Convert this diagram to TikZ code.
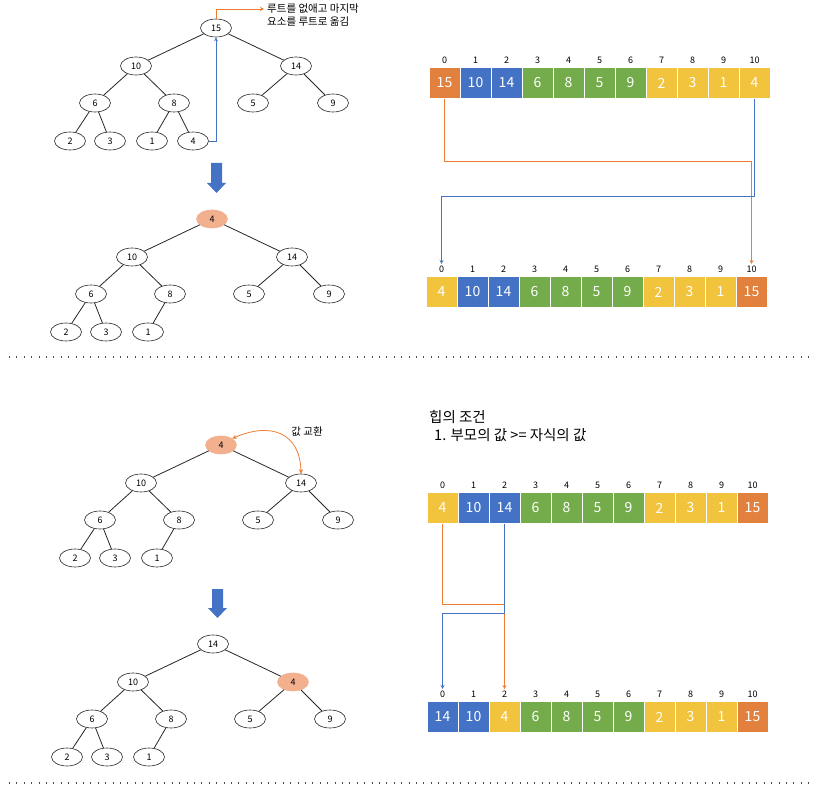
\documentclass[tikz,border=0pt]{standalone}
\usepackage{fontspec}
\setmainfont{Noto Sans CJK KR}
\usetikzlibrary{arrows.meta,calc,shapes.geometric}
\definecolor{cellor}{RGB}{226,128,62}
\definecolor{cellbl}{RGB}{68,114,196}
\definecolor{cellgr}{RGB}{116,172,76}
\definecolor{cellye}{RGB}{242,195,60}
\definecolor{nodehot}{RGB}{243,176,143}
\definecolor{orgline}{RGB}{237,125,49}
\definecolor{blueline}{RGB}{68,114,196}
% tree: coordinates of every slot, relative to the root
\newcommand{\treegrid}[1]{%
  \foreach \id/\gx/\gy in {r/0/0,a/-80/38,b/80/38,c/-121/75,d/-42/75,e/37/75,f/117/75,
                           g/-146/113,h/-106/113,i/-64/113,j/-23/113}
    \coordinate (#1p\id) at (\gx,\gy);}
\newcommand{\heaptree}[3]{%
  \begin{scope}[shift={#2}]
    \treegrid{#1}
    \foreach \id/\val/\sty in {#3}
      \node[tnode,\sty] (#1\id) at (#1p\id) {\val};
    \foreach \pa/\ch in {r/a,r/b,a/c,a/d,b/e,b/f,c/g,c/h,d/i}
      \draw[tedge] (#1\pa) -- (#1\ch);
  \end{scope}}
% array: name, left edge, centre line, value/colour list
\newcommand{\heaparray}[4]{%
  \foreach \val/\col [count=\i from 0] in {#4} {
    \node[cell, fill=\col] (#1c\i) at (#2+15.5+31*\i, #3) {\val};
    \node[idx] (#1n\i) at (#2+15.5+31*\i, #3-23) {\i};
  }}
\tikzset{
  tnode/.style={ellipse, draw=black!85, line width=0.6pt, fill=white, minimum width=31pt,
    minimum height=18pt, inner sep=0pt, font=\fontsize{9}{10}\selectfont},
  hot/.style={fill=nodehot, draw=nodehot},
  plain/.style={},
  tedge/.style={black!85, line width=0.8pt},
  cell/.style={rectangle, draw=white, line width=0.8pt, minimum width=31pt, minimum height=31pt,
    inner sep=0pt, text=white, font=\fontsize{14}{16}\selectfont},
  idx/.style={font=\fontsize{9}{10}\selectfont, inner sep=1.5pt},
  oline/.style={-{Stealth[length=4pt,width=4pt]}, orgline, line width=0.8pt},
  bline/.style={-{Stealth[length=4pt,width=4pt]}, blueline, line width=0.8pt},
  swaparr/.style={{Stealth[length=4.5pt,width=4.5pt]}-{Stealth[length=4.5pt,width=4.5pt]}, orgline, line width=0.8pt},
  bigarr/.style={fill=cellbl},
  sepline/.style={dash pattern=on 1pt off 6.4pt, line width=1.3pt, black!70},
  note/.style={font=\fontsize{10.5}{12}\selectfont, inner sep=1pt},
  cond/.style={font=\fontsize{14.5}{17}\selectfont, anchor=west, inner sep=0pt},
}
\begin{document}
\begin{tikzpicture}[x=1pt, y=-1pt]
\useasboundingbox (0,0) rectangle (819,799);

% --- step 1: move the last element to the root
\heaptree{t1}{(216,28)}{r/15/plain, a/10/plain, b/14/plain, c/6/plain, d/8/plain, e/5/plain,
  f/9/plain, g/2/plain, h/3/plain, i/1/plain, j/4/plain}
\draw[tedge] (t1d) -- (t1j);
\node[note, anchor=west, inner sep=3pt] (note1a) at (264,9) {루트를 없애고 마지막};
\node[note, anchor=west, inner sep=3pt] (note1b) at (264,22) {요소를 루트로 옮김};
\draw[oline] (t1r.north) |- (note1a.west);
\draw[bline] (t1j.east) -| (t1r.south);

\fill[bigarr] (211,163) -- (222,163) -- (222,183) -- (226,183) -- (216.5,193) -- (207,183) -- (211,183) -- cycle;

\heaptree{t2}{(212,219)}{r/4/hot, a/10/plain, b/14/plain, c/6/plain, d/8/plain, e/5/plain,
  f/9/plain, g/2/plain, h/3/plain, i/1/plain}

\heaparray{a1}{429}{83}{15/cellor, 10/cellbl, 14/cellbl, 6/cellgr, 8/cellgr, 5/cellgr, 9/cellgr,
  2/cellye, 3/cellye, 1/cellye, 4/cellye}
\heaparray{a2}{426}{292}{4/cellye, 10/cellbl, 14/cellbl, 6/cellgr, 8/cellgr, 5/cellgr, 9/cellgr,
  2/cellye, 3/cellye, 1/cellye, 15/cellor}
\coordinate (o1) at (0,161);
\coordinate (b1) at (0,196);
\draw[oline] (a1c0.south) -- (a1c0.south |- o1) -| (a2n10.north);
\draw[bline] (a1c10.south) -- (a1c10.south |- b1) -| (a2n0.north);

\coordinate (sepA) at (9,357);
\coordinate (sepB) at (812,357);
\draw[sepline] (sepA) -- (sepB);

% --- step 2: swap with the larger child
\heaptree{t3}{(221,445)}{r/4/hot, a/10/plain, b/14/plain, c/6/plain, d/8/plain, e/5/plain,
  f/9/plain, g/2/plain, h/3/plain, i/1/plain}
\draw[swaparr] (t3r.30) .. controls (270,422) and (300,432) .. (t3b.north);
\node[note] (swaplbl) at (307,432) {값 교환};

\fill[bigarr] (212,589) -- (223,589) -- (223,608) -- (227,608) -- (217.5,618) -- (208,608) -- (212,608) -- cycle;

\heaptree{t4}{(213,644)}{r/14/plain, a/10/plain, b/4/hot, c/6/plain, d/8/plain, e/5/plain,
  f/9/plain, g/2/plain, h/3/plain, i/1/plain}

\node[cond] (cond1) at (429,417) {힙의 조건};
\node[cond] (cond2) at (434,435) {1. 부모의 값 >= 자식의 값};

\heaparray{a3}{427}{508}{4/cellye, 10/cellbl, 14/cellbl, 6/cellgr, 8/cellgr, 5/cellgr, 9/cellgr,
  2/cellye, 3/cellye, 1/cellye, 15/cellor}
\heaparray{a4}{427}{717}{14/cellbl, 10/cellbl, 4/cellye, 6/cellgr, 8/cellgr, 5/cellgr, 9/cellgr,
  2/cellye, 3/cellye, 1/cellye, 15/cellor}
\coordinate (o2) at (0,604);
\coordinate (b2) at (0,613);
\draw[oline] (a3c0.south) -- (a3c0.south |- o2) -| (a4n2.north);
\draw[bline] (a3c2.south) -- (a3c2.south |- b2) -| (a4n0.north);

\coordinate (sepC) at (9,783);
\coordinate (sepD) at (812,783);
\draw[sepline] (sepC) -- (sepD);
\end{tikzpicture}
\end{document}
